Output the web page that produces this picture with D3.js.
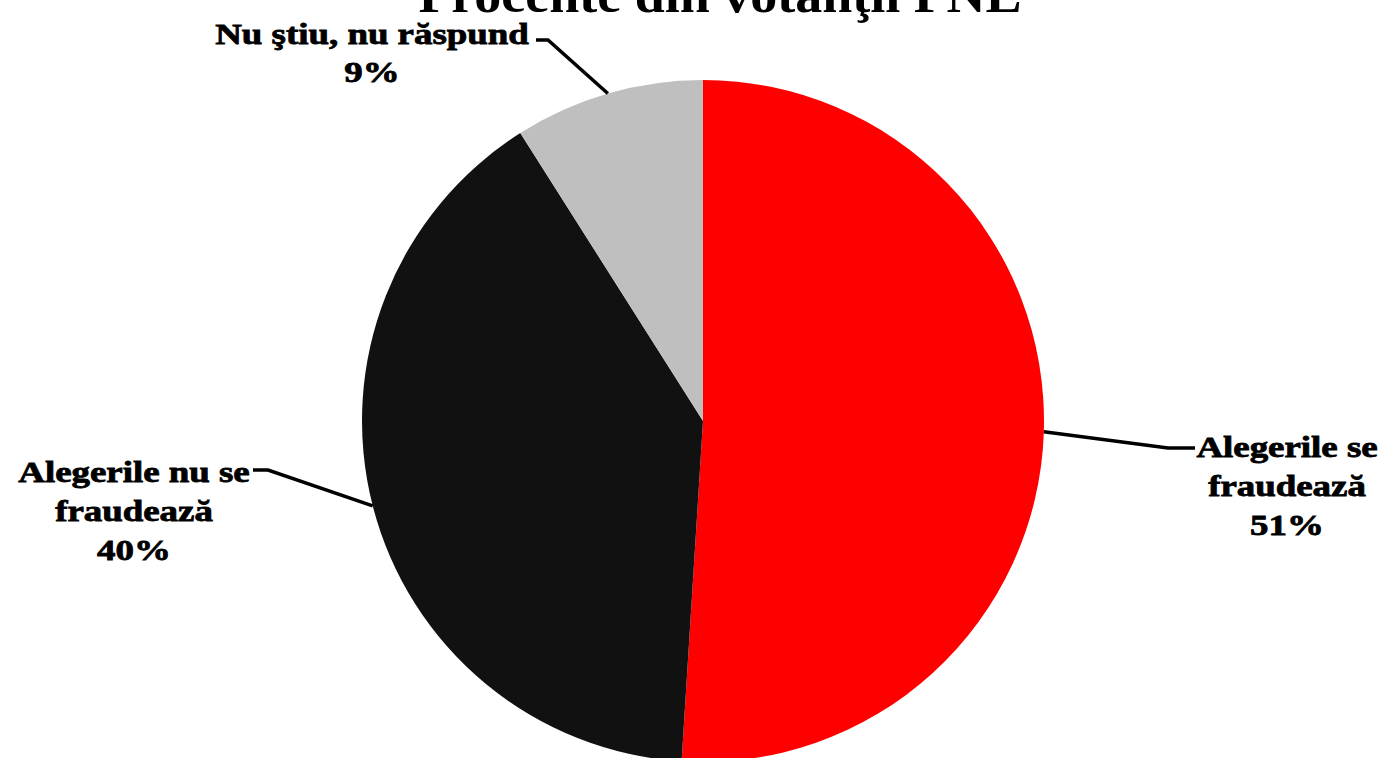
<!DOCTYPE html>
<html>
<head>
<meta charset="utf-8">
<script src="https://cdn.jsdelivr.net/npm/d3@7"></script>
<style>
  body { margin: 0; background: #fff; }
  text { font-family: "Liberation Serif", "Times New Roman", serif; font-weight: bold; fill: #000; }
</style>
</head>
<body>
<svg id="chart" width="1382" height="758"></svg>
<script>
const title = "Procente din votanţii PNL";
const categories = ["Alegerile se fraudează", "Alegerile nu se fraudează", "Nu ştiu, nu răspund"];
const values = [51, 40, 9];
const colors = ["#ff0000", "#111111", "#bfbfbf"];
// label lines as drawn in the picture
const labelLines = [
  ["Alegerile se", "fraudează", "51%"],
  ["Alegerile nu se", "fraudează", "40%"],
  ["Nu ştiu, nu răspund", "9%"]
];

const svg = d3.select("#chart");

const cx = 703, cy = 421, r = 341;

const pie = d3.pie().sort(null).value((d) => d);
const arcs = pie(values);
const arc = d3.arc().innerRadius(0).outerRadius(r);

const g = svg.append("g").attr("transform", `translate(${cx},${cy})`);

g.selectAll("path")
  .data(arcs)
  .enter()
  .append("path")
  .attr("d", arc)
  .attr("fill", (d, i) => colors[i]);

// title, cut off at the top edge like the source image
svg.append("text")
  .attr("transform", "translate(720,12) scale(1.08,1)")
  .attr("text-anchor", "middle")
  .style("font-size", "50px")
  .text(title);

// label placement (anchor x, first baseline, line step, elbow point, leader end)
const labelPos = [
  { x: 1287, y: 457, step: 39, elbow: [1168, 448], end: [1195, 448] },
  { x: 134, y: 482, step: 39, elbow: [268, 470], end: [253, 470] },
  { x: 372, y: 44, step: 38, elbow: [548, 40], end: [536, 40] }
];

arcs.forEach((d, i) => {
  const a = (d.startAngle + d.endAngle) / 2;
  const px = cx + r * Math.sin(a);
  const py = cy - r * Math.cos(a);
  const p = labelPos[i];
  svg.append("path")
    .attr("d", d3.line()([[px, py], p.elbow, p.end]))
    .attr("fill", "none")
    .attr("stroke", "#000")
    .attr("stroke-width", 3.5);

  // the source font is wide and heavy, so stretch it a bit
  const t = svg.append("text")
    .attr("transform", `translate(${p.x},0) scale(1.23,1)`)
    .attr("text-anchor", "middle")
    .attr("stroke", "#000")
    .attr("stroke-width", 0.8)
    .style("font-size", "30px");
  labelLines[i].forEach((line, j) => {
    t.append("tspan")
      .attr("x", 0)
      .attr("y", p.y + j * p.step)
      .text(line);
  });
});
</script>
</body>
</html>
